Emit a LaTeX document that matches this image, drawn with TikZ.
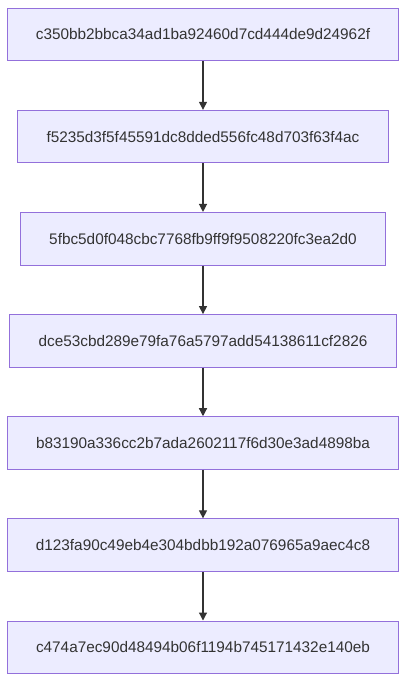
\documentclass[tikz,border=0pt]{standalone}
\usepackage{fontspec}
\setmainfont{Liberation Sans}
\usetikzlibrary{positioning,arrows.meta}
\definecolor{boxfill}{HTML}{ECECFF}
\definecolor{boxline}{HTML}{9370DB}
\definecolor{linkline}{HTML}{333333}
\tikzset{
  commit/.style={draw=boxline,fill=boxfill,line width=0.8pt,text=linkline,
    minimum height=39.4pt,inner xsep=21.5pt,font=\fontsize{11.5}{13}\selectfont},
  link/.style={draw=linkline,line width=0.9pt,-{Triangle[length=6pt,width=6pt]}}
}
\begin{document}
\begin{tikzpicture}[node distance=36.4pt]
       \useasboundingbox (0,0) rectangle (310.5pt,-520.5pt);
       % Commits, von oben nach unten
       \node[commit] (c1) at (152.25pt,-25.875pt) {c350bb2bbca34ad1ba92460d7cd444de9d24962f};
       \node[commit,below=of c1] (c2) {f5235d3f5f45591dc8dded556fc48d703f63f4ac};
       \node[commit,below=of c2] (c3) {5fbc5d0f048cbc7768fb9ff9f9508220fc3ea2d0};
       \node[commit,below=of c3] (c4) {dce53cbd289e79fa76a5797add54138611cf2826};
       \node[commit,below=of c4] (c5) {b83190a336cc2b7ada2602117f6d30e3ad4898ba};
       \node[commit,below=of c5] (c6) {d123fa90c49eb4e304bdbb192a076965a9aec4c8};
       \node[commit,below=of c6] (c7) {c474a7ec90d48494b06f1194b745171432e140eb};
       % Verbindungen
       \foreach \a/\b in {c1/c2,c2/c3,c3/c4,c4/c5,c5/c6,c6/c7} {
         \draw[link] (\a.south) -- (\b.north);
       }
\end{tikzpicture}
\end{document}
